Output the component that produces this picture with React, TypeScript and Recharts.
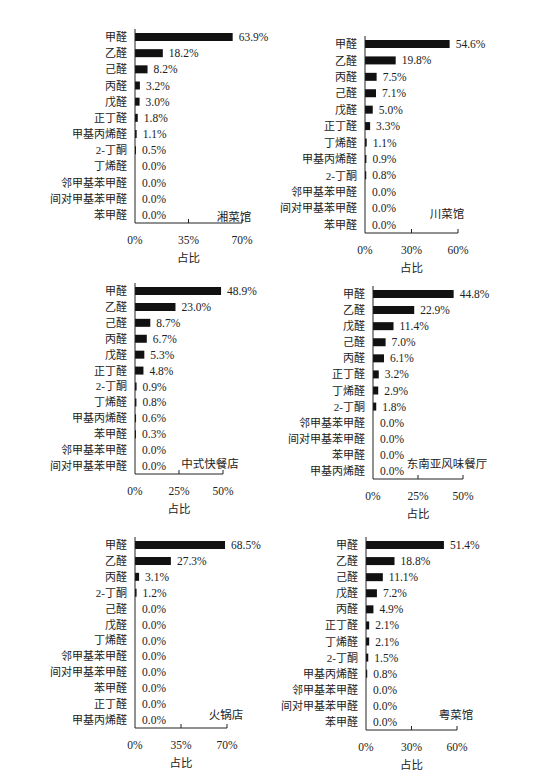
import React from 'react';
import { BarChart, Bar, XAxis, YAxis, LabelList, Cell } from 'recharts';

const FONT = "'Liberation Serif', 'Noto Sans CJK SC', serif";

const xiangNames = ['甲醛', '乙醛', '己醛', '丙醛', '戊醛', '正丁醛', '甲基丙烯醛', '2-丁酮', '丁烯醛', '邻甲基苯甲醛', '间对甲基苯甲醛', '苯甲醛'];
const xiangValues = [63.9, 18.2, 8.2, 3.2, 3.0, 1.8, 1.1, 0.5, 0.0, 0.0, 0.0, 0.0];

const chuanNames = ['甲醛', '乙醛', '丙醛', '己醛', '戊醛', '正丁醛', '丁烯醛', '甲基丙烯醛', '2-丁酮', '邻甲基苯甲醛', '间对甲基苯甲醛', '苯甲醛'];
const chuanValues = [54.6, 19.8, 7.5, 7.1, 5.0, 3.3, 1.1, 0.9, 0.8, 0.0, 0.0, 0.0];

const kuaicanNames = ['甲醛', '乙醛', '己醛', '丙醛', '戊醛', '正丁醛', '2-丁酮', '丁烯醛', '甲基丙烯醛', '苯甲醛', '邻甲基苯甲醛', '间对甲基苯甲醛'];
const kuaicanValues = [48.9, 23.0, 8.7, 6.7, 5.3, 4.8, 0.9, 0.8, 0.6, 0.3, 0.0, 0.0];

const dnyNames = ['甲醛', '乙醛', '戊醛', '己醛', '丙醛', '正丁醛', '丁烯醛', '2-丁酮', '邻甲基苯甲醛', '间对甲基苯甲醛', '苯甲醛', '甲基丙烯醛'];
const dnyValues = [44.8, 22.9, 11.4, 7.0, 6.1, 3.2, 2.9, 1.8, 0.0, 0.0, 0.0, 0.0];

const huoguoNames = ['甲醛', '乙醛', '丙醛', '2-丁酮', '己醛', '戊醛', '丁烯醛', '邻甲基苯甲醛', '间对甲基苯甲醛', '苯甲醛', '正丁醛', '甲基丙烯醛'];
const huoguoValues = [68.5, 27.3, 3.1, 1.2, 0.0, 0.0, 0.0, 0.0, 0.0, 0.0, 0.0, 0.0];

const yueNames = ['甲醛', '乙醛', '己醛', '戊醛', '丙醛', '正丁醛', '丁烯醛', '2-丁酮', '甲基丙烯醛', '邻甲基苯甲醛', '间对甲基苯甲醛', '苯甲醛'];
const yueValues = [51.4, 18.8, 11.1, 7.2, 4.9, 2.1, 2.1, 1.5, 0.8, 0.0, 0.0, 0.0];

const ticks70 = [0, 35, 70];
const ticks60 = [0, 30, 60];
const ticks50 = [0, 25, 50];

const titles = ['湘菜馆', '川菜馆', '中式快餐店', '东南亚风味餐厅', '火锅店', '粤菜馆'];

const panels = [
  { names: xiangNames, values: xiangValues, ticks: ticks70, title: titles[0], axisX: 135, top: 29, bottom: 223, plotW: 107, tx: 234, ty: 216 },
  { names: chuanNames, values: chuanValues, ticks: ticks60, title: titles[1], axisX: 365, top: 36, bottom: 233, plotW: 93, tx: 447, ty: 213 },
  { names: kuaicanNames, values: kuaicanValues, ticks: ticks50, title: titles[2], axisX: 135, top: 283, bottom: 474, plotW: 88, tx: 210, ty: 463 },
  { names: dnyNames, values: dnyValues, ticks: ticks50, title: titles[3], axisX: 373, top: 286, bottom: 479, plotW: 90, tx: 447, ty: 463 },
  { names: huoguoNames, values: huoguoValues, ticks: ticks70, title: titles[4], axisX: 135, top: 537, bottom: 728, plotW: 92, tx: 226, ty: 714 },
  { names: yueNames, values: yueValues, ticks: ticks60, title: titles[5], axisX: 366, top: 537, bottom: 730, plotW: 91, tx: 456, ty: 714 },
];

const YW = 90;
const RIGHT = 50;
const XH = 42;

const XTick = (props: any) => {
  const { x, y, payload } = props;
  return (
    <g>
      {payload.value !== 0 && <line x1={x} x2={x} y1={y} y2={y - 4} stroke="#222" strokeWidth={1} />}
      <text x={x} y={y + 17} textAnchor="middle" dominantBaseline="central" fontSize={11.5} fill="#222" fontFamily={FONT}>
        {`${payload.value}%`}
      </text>
    </g>
  );
};

const YTick = (props: any) => {
  const { x, y, payload } = props;
  return (
    <text x={x} y={y} textAnchor="end" dominantBaseline="central" fontSize={11} fill="#222" fontFamily={FONT}>
      {payload.value}
    </text>
  );
};

function Panel({ p }: { p: (typeof panels)[number] }) {
  const data = p.names.map((n, i) => ({ name: n, value: p.values[i] }));
  const plotH = p.bottom - p.top;
  const max = p.ticks[p.ticks.length - 1];
  return (
    <>
      <div style={{ position: 'absolute', left: p.axisX - YW, top: p.top }}>
        <BarChart
          width={YW + p.plotW + RIGHT}
          height={plotH + XH}
          data={data}
          layout="vertical"
          margin={{ top: 0, right: RIGHT, bottom: 0, left: 0 }}
        >
          <XAxis
            type="number"
            domain={[0, max]}
            ticks={p.ticks}
            height={XH}
            tickSize={0}
            tickMargin={0}
            tickLine={false}
            axisLine={{ stroke: '#222', strokeWidth: 1 }}
            tick={XTick}
            interval={0}
            label={{ value: '占比', position: 'insideBottom', offset: 3, fontSize: 11.5, fill: '#222', fontFamily: FONT }}
          />
          <YAxis
            type="category"
            dataKey="name"
            width={YW}
            tickLine={false}
            tickSize={6}
            tickMargin={2}
            axisLine={{ stroke: '#222', strokeWidth: 1 }}
            tick={YTick}
            interval={0}
          />
          <Bar dataKey="value" fill="#111" barSize={8} minPointSize={1} isAnimationActive={false}>
            {data.map((d, i) => (
              <Cell key={i} fill={d.value === 0 ? 'none' : '#111'} />
            ))}
            <LabelList
              dataKey="value"
              position="right"
              offset={6}
              formatter={(v: any) => `${Number(v).toFixed(1)}%`}
              style={{ fontSize: 11.5, fill: '#222', fontFamily: FONT }}
            />
          </Bar>
        </BarChart>
      </div>
      <div
        style={{
          position: 'absolute',
          left: p.tx,
          top: p.ty,
          transform: 'translate(-50%, -50%)',
          fontSize: 11.5,
          color: '#222',
          fontFamily: FONT,
          whiteSpace: 'nowrap',
        }}
      >
        {p.title}
      </div>
    </>
  );
}

export default function App() {
  return (
    <div style={{ position: 'fixed', left: 0, top: 0, width: 558, height: 774, background: '#fff', overflow: 'hidden' }}>
      {panels.map((p, i) => (
        <Panel key={i} p={p} />
      ))}
    </div>
  );
}
